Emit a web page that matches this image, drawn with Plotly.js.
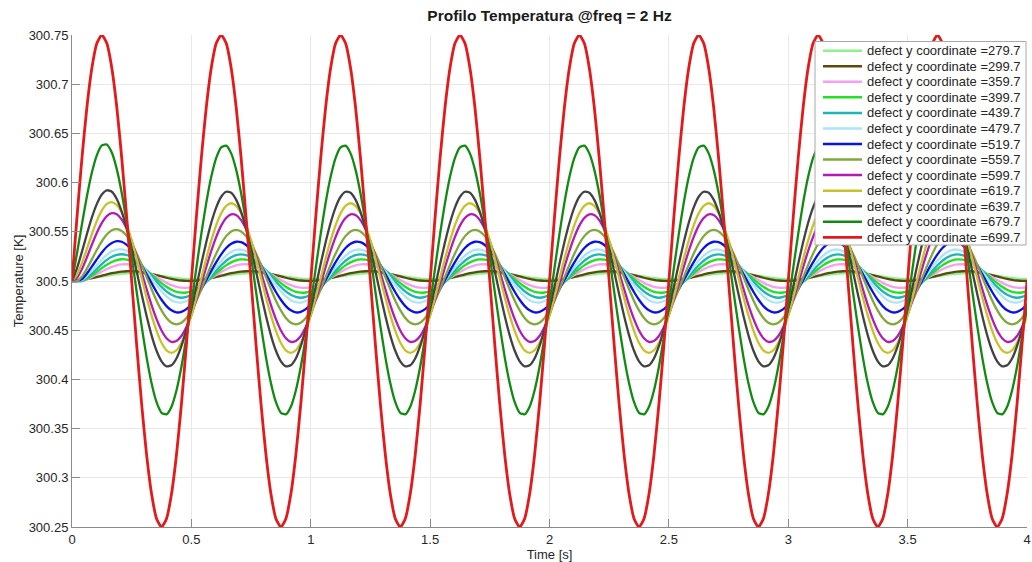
<!DOCTYPE html>
<html><head><meta charset="utf-8">
<script src="https://cdn.plot.ly/plotly-3.0.1.min.js"></script>
<style>html,body{margin:0;padding:0;background:#fff}#chart{width:1032px;height:562px}</style>
</head><body><div id="chart"></div>
<script>
// Time samples [s]
const timeS = [0,0.0208,0.0417,0.0625,0.0833,0.1042,0.125,0.1458,0.1667,0.1875,0.2083,0.2292,0.25,0.2708,0.2917,0.3125,0.3333,0.3542,0.375,0.3958,0.4167,0.4375,0.4583,0.4792,
0.5,0.5208,0.5417,0.5625,0.5833,0.6042,0.625,0.6458,0.6667,0.6875,0.7083,0.7292,0.75,0.7708,0.7917,0.8125,0.8333,0.8542,0.875,0.8958,0.9167,0.9375,0.9583,0.9792,
1,1.0208,1.0417,1.0625,1.0833,1.1042,1.125,1.1458,1.1667,1.1875,1.2083,1.2292,1.25,1.2708,1.2917,1.3125,1.3333,1.3542,1.375,1.3958,1.4167,1.4375,1.4583,1.4792,
1.5,1.5208,1.5417,1.5625,1.5833,1.6042,1.625,1.6458,1.6667,1.6875,1.7083,1.7292,1.75,1.7708,1.7917,1.8125,1.8333,1.8542,1.875,1.8958,1.9167,1.9375,1.9583,1.9792,
2,2.0208,2.0417,2.0625,2.0833,2.1042,2.125,2.1458,2.1667,2.1875,2.2083,2.2292,2.25,2.2708,2.2917,2.3125,2.3333,2.3542,2.375,2.3958,2.4167,2.4375,2.4583,2.4792,
2.5,2.5208,2.5417,2.5625,2.5833,2.6042,2.625,2.6458,2.6667,2.6875,2.7083,2.7292,2.75,2.7708,2.7917,2.8125,2.8333,2.8542,2.875,2.8958,2.9167,2.9375,2.9583,2.9792,
3,3.0208,3.0417,3.0625,3.0833,3.1042,3.125,3.1458,3.1667,3.1875,3.2083,3.2292,3.25,3.2708,3.2917,3.3125,3.3333,3.3542,3.375,3.3958,3.4167,3.4375,3.4583,3.4792,
3.5,3.5208,3.5417,3.5625,3.5833,3.6042,3.625,3.6458,3.6667,3.6875,3.7083,3.7292,3.75,3.7708,3.7917,3.8125,3.8333,3.8542,3.875,3.8958,3.9167,3.9375,3.9583,3.9792,
4];

const seriesLabels = ['defect y coordinate =279.7','defect y coordinate =299.7','defect y coordinate =359.7',
'defect y coordinate =399.7','defect y coordinate =439.7','defect y coordinate =479.7','defect y coordinate =519.7',
'defect y coordinate =559.7','defect y coordinate =599.7','defect y coordinate =619.7','defect y coordinate =639.7',
'defect y coordinate =679.7','defect y coordinate =699.7'];

const seriesColors = ['#8ef08e','#5a4b0c','#f5a0f0','#22e022','#20b4b4','#aee4f5','#0a14e0',
'#80a83a','#b21bb5','#c8c228','#424242','#118a11','#e31a1c'];

// Temperature [K] per defect position
const temp279 = [300.5,300.5007,300.5014,300.5021,300.5029,300.5038,300.5045,300.5054,300.5063,300.5069,300.5075,300.5078,300.508,300.508,300.5077,300.5073,300.5067,300.506,300.5053,300.5045,300.5037,300.5031,300.5025,300.5022,
300.502,300.502,300.5023,300.5027,300.5033,300.504,300.5047,300.5055,300.5063,300.5069,300.5075,300.5078,300.508,300.508,300.5077,300.5073,300.5067,300.506,300.5053,300.5045,300.5037,300.5031,300.5025,300.5022,
300.502,300.502,300.5023,300.5027,300.5033,300.504,300.5047,300.5055,300.5063,300.5069,300.5075,300.5078,300.508,300.508,300.5077,300.5073,300.5067,300.506,300.5053,300.5045,300.5037,300.5031,300.5025,300.5022,
300.502,300.502,300.5023,300.5027,300.5033,300.504,300.5047,300.5055,300.5063,300.5069,300.5075,300.5078,300.508,300.508,300.5077,300.5073,300.5067,300.506,300.5053,300.5045,300.5037,300.5031,300.5025,300.5022,
300.502,300.502,300.5023,300.5027,300.5033,300.504,300.5047,300.5055,300.5063,300.5069,300.5075,300.5078,300.508,300.508,300.5077,300.5073,300.5067,300.506,300.5053,300.5045,300.5037,300.5031,300.5025,300.5022,
300.502,300.502,300.5023,300.5027,300.5033,300.504,300.5047,300.5055,300.5063,300.5069,300.5075,300.5078,300.508,300.508,300.5077,300.5073,300.5067,300.506,300.5053,300.5045,300.5037,300.5031,300.5025,300.5022,
300.502,300.502,300.5023,300.5027,300.5033,300.504,300.5047,300.5055,300.5063,300.5069,300.5075,300.5078,300.508,300.508,300.5077,300.5073,300.5067,300.506,300.5053,300.5045,300.5037,300.5031,300.5025,300.5022,
300.502,300.502,300.5023,300.5027,300.5033,300.504,300.5047,300.5055,300.5063,300.5069,300.5075,300.5078,300.508,300.508,300.5077,300.5073,300.5067,300.506,300.5053,300.5045,300.5037,300.5031,300.5025,300.5022,
300.502];
const temp299 = [300.5,300.5003,300.5009,300.5018,300.5029,300.5041,300.5054,300.5067,300.5079,300.5088,300.5095,300.5099,300.51,300.5097,300.5091,300.5082,300.5071,300.5059,300.5046,300.5033,300.5021,300.5012,300.5005,300.5001,
300.5,300.5003,300.5009,300.5018,300.5029,300.5041,300.5054,300.5067,300.5079,300.5088,300.5095,300.5099,300.51,300.5097,300.5091,300.5082,300.5071,300.5059,300.5046,300.5033,300.5021,300.5012,300.5005,300.5001,
300.5,300.5003,300.5009,300.5018,300.5029,300.5041,300.5054,300.5067,300.5079,300.5088,300.5095,300.5099,300.51,300.5097,300.5091,300.5082,300.5071,300.5059,300.5046,300.5033,300.5021,300.5012,300.5005,300.5001,
300.5,300.5003,300.5009,300.5018,300.5029,300.5041,300.5054,300.5067,300.5079,300.5088,300.5095,300.5099,300.51,300.5097,300.5091,300.5082,300.5071,300.5059,300.5046,300.5033,300.5021,300.5012,300.5005,300.5001,
300.5,300.5003,300.5009,300.5018,300.5029,300.5041,300.5054,300.5067,300.5079,300.5088,300.5095,300.5099,300.51,300.5097,300.5091,300.5082,300.5071,300.5059,300.5046,300.5033,300.5021,300.5012,300.5005,300.5001,
300.5,300.5003,300.5009,300.5018,300.5029,300.5041,300.5054,300.5067,300.5079,300.5088,300.5095,300.5099,300.51,300.5097,300.5091,300.5082,300.5071,300.5059,300.5046,300.5033,300.5021,300.5012,300.5005,300.5001,
300.5,300.5003,300.5009,300.5018,300.5029,300.5041,300.5054,300.5067,300.5079,300.5088,300.5095,300.5099,300.51,300.5097,300.5091,300.5082,300.5071,300.5059,300.5046,300.5033,300.5021,300.5012,300.5005,300.5001,
300.5,300.5003,300.5009,300.5018,300.5029,300.5041,300.5054,300.5067,300.5079,300.5088,300.5095,300.5099,300.51,300.5097,300.5091,300.5082,300.5071,300.5059,300.5046,300.5033,300.5021,300.5012,300.5005,300.5001,
300.5];
const temp359 = [300.5,300.5,300.5,300.5017,300.5041,300.5069,300.5096,300.5122,300.5144,300.516,300.5168,300.517,300.5163,300.5148,300.5127,300.5101,300.5071,300.504,300.5009,300.4981,300.4958,300.4941,300.4932,300.493,
300.4937,300.4952,300.4973,300.4999,300.5029,300.5061,300.5091,300.5119,300.5142,300.5159,300.5168,300.517,300.5163,300.5148,300.5127,300.5101,300.5071,300.504,300.5009,300.4981,300.4958,300.4941,300.4932,300.493,
300.4937,300.4952,300.4973,300.4999,300.5029,300.5061,300.5091,300.5119,300.5142,300.5159,300.5168,300.517,300.5163,300.5148,300.5127,300.5101,300.5071,300.504,300.5009,300.4981,300.4958,300.4941,300.4932,300.493,
300.4937,300.4952,300.4973,300.4999,300.5029,300.5061,300.5091,300.5119,300.5142,300.5159,300.5168,300.517,300.5163,300.5148,300.5127,300.5101,300.5071,300.504,300.5009,300.4981,300.4958,300.4941,300.4932,300.493,
300.4937,300.4952,300.4973,300.4999,300.5029,300.5061,300.5091,300.5119,300.5142,300.5159,300.5168,300.517,300.5163,300.5148,300.5127,300.5101,300.5071,300.504,300.5009,300.4981,300.4958,300.4941,300.4932,300.493,
300.4937,300.4952,300.4973,300.4999,300.5029,300.5061,300.5091,300.5119,300.5142,300.5159,300.5168,300.517,300.5163,300.5148,300.5127,300.5101,300.5071,300.504,300.5009,300.4981,300.4958,300.4941,300.4932,300.493,
300.4937,300.4952,300.4973,300.4999,300.5029,300.5061,300.5091,300.5119,300.5142,300.5159,300.5168,300.517,300.5163,300.5148,300.5127,300.5101,300.5071,300.504,300.5009,300.4981,300.4958,300.4941,300.4932,300.493,
300.4937,300.4952,300.4973,300.4999,300.5029,300.5061,300.5091,300.5119,300.5142,300.5159,300.5168,300.517,300.5163,300.5148,300.5127,300.5101,300.5071,300.504,300.5009,300.4981,300.4958,300.4941,300.4932,300.493,
300.4937];
const temp399 = [300.5,300.5,300.5,300.5022,300.5055,300.5093,300.5131,300.5165,300.5193,300.5212,300.5221,300.5218,300.5204,300.518,300.5148,300.5108,300.5065,300.502,300.4978,300.4941,300.4911,300.489,300.4881,300.4883,
300.4896,300.492,300.4953,300.4992,300.5035,300.508,300.5122,300.5159,300.5189,300.521,300.5219,300.5217,300.5204,300.518,300.5148,300.5108,300.5065,300.502,300.4978,300.4941,300.4911,300.489,300.4881,300.4883,
300.4896,300.492,300.4953,300.4992,300.5035,300.508,300.5122,300.5159,300.5189,300.521,300.5219,300.5217,300.5204,300.518,300.5148,300.5108,300.5065,300.502,300.4978,300.4941,300.4911,300.489,300.4881,300.4883,
300.4896,300.492,300.4953,300.4992,300.5035,300.508,300.5122,300.5159,300.5189,300.521,300.5219,300.5217,300.5204,300.518,300.5148,300.5108,300.5065,300.502,300.4978,300.4941,300.4911,300.489,300.4881,300.4883,
300.4896,300.492,300.4953,300.4992,300.5035,300.508,300.5122,300.5159,300.5189,300.521,300.5219,300.5217,300.5204,300.518,300.5148,300.5108,300.5065,300.502,300.4978,300.4941,300.4911,300.489,300.4881,300.4883,
300.4896,300.492,300.4953,300.4992,300.5035,300.508,300.5122,300.5159,300.5189,300.521,300.5219,300.5217,300.5204,300.518,300.5148,300.5108,300.5065,300.502,300.4978,300.4941,300.4911,300.489,300.4881,300.4883,
300.4896,300.492,300.4953,300.4992,300.5035,300.508,300.5122,300.5159,300.5189,300.521,300.5219,300.5217,300.5204,300.518,300.5148,300.5108,300.5065,300.502,300.4978,300.4941,300.4911,300.489,300.4881,300.4883,
300.4896,300.492,300.4953,300.4992,300.5035,300.508,300.5122,300.5159,300.5189,300.521,300.5219,300.5217,300.5204,300.518,300.5148,300.5108,300.5065,300.502,300.4978,300.4941,300.4911,300.489,300.4881,300.4883,
300.4896];
const temp439 = [300.5,300.5,300.5001,300.5033,300.5076,300.5124,300.5171,300.5214,300.5246,300.5266,300.5272,300.5264,300.5241,300.5206,300.516,300.5107,300.505,300.4993,300.494,300.4894,300.486,300.4838,300.483,300.4838,
300.486,300.4894,300.494,300.4993,300.505,300.5107,300.516,300.5206,300.5241,300.5263,300.527,300.5263,300.5241,300.5206,300.516,300.5107,300.505,300.4993,300.494,300.4894,300.486,300.4838,300.483,300.4838,
300.486,300.4894,300.494,300.4993,300.505,300.5107,300.516,300.5206,300.5241,300.5263,300.527,300.5263,300.5241,300.5206,300.516,300.5107,300.505,300.4993,300.494,300.4894,300.486,300.4838,300.483,300.4838,
300.486,300.4894,300.494,300.4993,300.505,300.5107,300.516,300.5206,300.5241,300.5263,300.527,300.5263,300.5241,300.5206,300.516,300.5107,300.505,300.4993,300.494,300.4894,300.486,300.4838,300.483,300.4838,
300.486,300.4894,300.494,300.4993,300.505,300.5107,300.516,300.5206,300.5241,300.5263,300.527,300.5263,300.5241,300.5206,300.516,300.5107,300.505,300.4993,300.494,300.4894,300.486,300.4838,300.483,300.4838,
300.486,300.4894,300.494,300.4993,300.505,300.5107,300.516,300.5206,300.5241,300.5263,300.527,300.5263,300.5241,300.5206,300.516,300.5107,300.505,300.4993,300.494,300.4894,300.486,300.4838,300.483,300.4838,
300.486,300.4894,300.494,300.4993,300.505,300.5107,300.516,300.5206,300.5241,300.5263,300.527,300.5263,300.5241,300.5206,300.516,300.5107,300.505,300.4993,300.494,300.4894,300.486,300.4838,300.483,300.4838,
300.486,300.4894,300.494,300.4993,300.505,300.5107,300.516,300.5206,300.5241,300.5263,300.527,300.5263,300.5241,300.5206,300.516,300.5107,300.505,300.4993,300.494,300.4894,300.486,300.4838,300.483,300.4838,
300.486];
const temp479 = [300.5,300.5,300.501,300.5052,300.5106,300.5163,300.5219,300.5266,300.5301,300.532,300.5322,300.5306,300.5272,300.5224,300.5164,300.5097,300.5027,300.4958,300.4895,300.4843,300.4805,300.4784,300.4781,300.4796,
300.4829,300.4876,300.4936,300.5003,300.5074,300.5142,300.5205,300.5257,300.5295,300.5316,300.5319,300.5304,300.5271,300.5224,300.5164,300.5097,300.5027,300.4958,300.4895,300.4843,300.4805,300.4784,300.4781,300.4796,
300.4829,300.4876,300.4936,300.5003,300.5074,300.5142,300.5205,300.5257,300.5295,300.5316,300.5319,300.5304,300.5271,300.5224,300.5164,300.5097,300.5027,300.4958,300.4895,300.4843,300.4805,300.4784,300.4781,300.4796,
300.4829,300.4876,300.4936,300.5003,300.5074,300.5142,300.5205,300.5257,300.5295,300.5316,300.5319,300.5304,300.5271,300.5224,300.5164,300.5097,300.5027,300.4958,300.4895,300.4843,300.4805,300.4784,300.4781,300.4796,
300.4829,300.4876,300.4936,300.5003,300.5074,300.5142,300.5205,300.5257,300.5295,300.5316,300.5319,300.5304,300.5271,300.5224,300.5164,300.5097,300.5027,300.4958,300.4895,300.4843,300.4805,300.4784,300.4781,300.4796,
300.4829,300.4876,300.4936,300.5003,300.5074,300.5142,300.5205,300.5257,300.5295,300.5316,300.5319,300.5304,300.5271,300.5224,300.5164,300.5097,300.5027,300.4958,300.4895,300.4843,300.4805,300.4784,300.4781,300.4796,
300.4829,300.4876,300.4936,300.5003,300.5074,300.5142,300.5205,300.5257,300.5295,300.5316,300.5319,300.5304,300.5271,300.5224,300.5164,300.5097,300.5027,300.4958,300.4895,300.4843,300.4805,300.4784,300.4781,300.4796,
300.4829,300.4876,300.4936,300.5003,300.5074,300.5142,300.5205,300.5257,300.5295,300.5316,300.5319,300.5304,300.5271,300.5224,300.5164,300.5097,300.5027,300.4958,300.4895,300.4843,300.4805,300.4784,300.4781,300.4796,
300.4829];
const temp519 = [300.5,300.5,300.502,300.5077,300.5148,300.5221,300.529,300.5348,300.5386,300.5405,300.5399,300.5368,300.5318,300.5247,300.5163,300.5071,300.4978,300.4888,300.4809,300.4745,300.4702,300.4681,300.4686,300.4714,
300.4764,300.4834,300.4917,300.5009,300.5103,300.5192,300.5271,300.5335,300.5378,300.5399,300.5395,300.5366,300.5316,300.5247,300.5163,300.5071,300.4978,300.4888,300.4809,300.4745,300.4702,300.4681,300.4686,300.4714,
300.4764,300.4834,300.4917,300.5009,300.5103,300.5192,300.5271,300.5335,300.5378,300.5399,300.5395,300.5366,300.5316,300.5247,300.5163,300.5071,300.4978,300.4888,300.4809,300.4745,300.4702,300.4681,300.4686,300.4714,
300.4764,300.4834,300.4917,300.5009,300.5103,300.5192,300.5271,300.5335,300.5378,300.5399,300.5395,300.5366,300.5316,300.5247,300.5163,300.5071,300.4978,300.4888,300.4809,300.4745,300.4702,300.4681,300.4686,300.4714,
300.4764,300.4834,300.4917,300.5009,300.5103,300.5192,300.5271,300.5335,300.5378,300.5399,300.5395,300.5366,300.5316,300.5247,300.5163,300.5071,300.4978,300.4888,300.4809,300.4745,300.4702,300.4681,300.4686,300.4714,
300.4764,300.4834,300.4917,300.5009,300.5103,300.5192,300.5271,300.5335,300.5378,300.5399,300.5395,300.5366,300.5316,300.5247,300.5163,300.5071,300.4978,300.4888,300.4809,300.4745,300.4702,300.4681,300.4686,300.4714,
300.4764,300.4834,300.4917,300.5009,300.5103,300.5192,300.5271,300.5335,300.5378,300.5399,300.5395,300.5366,300.5316,300.5247,300.5163,300.5071,300.4978,300.4888,300.4809,300.4745,300.4702,300.4681,300.4686,300.4714,
300.4764,300.4834,300.4917,300.5009,300.5103,300.5192,300.5271,300.5335,300.5378,300.5399,300.5395,300.5366,300.5316,300.5247,300.5163,300.5071,300.4978,300.4888,300.4809,300.4745,300.4702,300.4681,300.4686,300.4714,
300.4764];
const temp559 = [300.5,300.5,300.5046,300.5126,300.522,300.5317,300.5404,300.5472,300.5515,300.5527,300.5509,300.5459,300.5381,300.528,300.5164,300.504,300.4916,300.48,300.4701,300.4624,300.4576,300.456,300.4576,300.4624,
300.4701,300.48,300.4916,300.504,300.5164,300.528,300.5379,300.5456,300.5504,300.552,300.5504,300.5456,300.5379,300.528,300.5164,300.504,300.4916,300.48,300.4701,300.4624,300.4576,300.456,300.4576,300.4624,
300.4701,300.48,300.4916,300.504,300.5164,300.528,300.5379,300.5456,300.5504,300.552,300.5504,300.5456,300.5379,300.528,300.5164,300.504,300.4916,300.48,300.4701,300.4624,300.4576,300.456,300.4576,300.4624,
300.4701,300.48,300.4916,300.504,300.5164,300.528,300.5379,300.5456,300.5504,300.552,300.5504,300.5456,300.5379,300.528,300.5164,300.504,300.4916,300.48,300.4701,300.4624,300.4576,300.456,300.4576,300.4624,
300.4701,300.48,300.4916,300.504,300.5164,300.528,300.5379,300.5456,300.5504,300.552,300.5504,300.5456,300.5379,300.528,300.5164,300.504,300.4916,300.48,300.4701,300.4624,300.4576,300.456,300.4576,300.4624,
300.4701,300.48,300.4916,300.504,300.5164,300.528,300.5379,300.5456,300.5504,300.552,300.5504,300.5456,300.5379,300.528,300.5164,300.504,300.4916,300.48,300.4701,300.4624,300.4576,300.456,300.4576,300.4624,
300.4701,300.48,300.4916,300.504,300.5164,300.528,300.5379,300.5456,300.5504,300.552,300.5504,300.5456,300.5379,300.528,300.5164,300.504,300.4916,300.48,300.4701,300.4624,300.4576,300.456,300.4576,300.4624,
300.4701,300.48,300.4916,300.504,300.5164,300.528,300.5379,300.5456,300.5504,300.552,300.5504,300.5456,300.5379,300.528,300.5164,300.504,300.4916,300.48,300.4701,300.4624,300.4576,300.456,300.4576,300.4624,
300.4701];
const temp599 = [300.5,300.5034,300.5122,300.5241,300.537,300.5491,300.5591,300.566,300.569,300.5678,300.5624,300.5531,300.5405,300.5252,300.5087,300.4917,300.4755,300.4612,300.4497,300.4419,300.4382,300.439,300.4441,300.4532,
300.4657,300.4808,300.4973,300.5143,300.5305,300.5448,300.5563,300.5641,300.5678,300.567,300.5619,300.5528,300.5403,300.5252,300.5087,300.4917,300.4755,300.4612,300.4497,300.4419,300.4382,300.439,300.4441,300.4532,
300.4657,300.4808,300.4973,300.5143,300.5305,300.5448,300.5563,300.5641,300.5678,300.567,300.5619,300.5528,300.5403,300.5252,300.5087,300.4917,300.4755,300.4612,300.4497,300.4419,300.4382,300.439,300.4441,300.4532,
300.4657,300.4808,300.4973,300.5143,300.5305,300.5448,300.5563,300.5641,300.5678,300.567,300.5619,300.5528,300.5403,300.5252,300.5087,300.4917,300.4755,300.4612,300.4497,300.4419,300.4382,300.439,300.4441,300.4532,
300.4657,300.4808,300.4973,300.5143,300.5305,300.5448,300.5563,300.5641,300.5678,300.567,300.5619,300.5528,300.5403,300.5252,300.5087,300.4917,300.4755,300.4612,300.4497,300.4419,300.4382,300.439,300.4441,300.4532,
300.4657,300.4808,300.4973,300.5143,300.5305,300.5448,300.5563,300.5641,300.5678,300.567,300.5619,300.5528,300.5403,300.5252,300.5087,300.4917,300.4755,300.4612,300.4497,300.4419,300.4382,300.439,300.4441,300.4532,
300.4657,300.4808,300.4973,300.5143,300.5305,300.5448,300.5563,300.5641,300.5678,300.567,300.5619,300.5528,300.5403,300.5252,300.5087,300.4917,300.4755,300.4612,300.4497,300.4419,300.4382,300.439,300.4441,300.4532,
300.4657,300.4808,300.4973,300.5143,300.5305,300.5448,300.5563,300.5641,300.5678,300.567,300.5619,300.5528,300.5403,300.5252,300.5087,300.4917,300.4755,300.4612,300.4497,300.4419,300.4382,300.439,300.4441,300.4532,
300.4657];
const temp619 = [300.5,300.5064,300.5182,300.5327,300.5476,300.5611,300.5717,300.5783,300.5802,300.5772,300.5693,300.5571,300.5412,300.5227,300.503,300.4833,300.465,300.4493,300.4372,300.4296,300.427,300.4296,300.4372,300.4493,
300.465,300.4833,300.503,300.5227,300.541,300.5567,300.5688,300.5764,300.579,300.5764,300.5688,300.5567,300.541,300.5227,300.503,300.4833,300.465,300.4493,300.4372,300.4296,300.427,300.4296,300.4372,300.4493,
300.465,300.4833,300.503,300.5227,300.541,300.5567,300.5688,300.5764,300.579,300.5764,300.5688,300.5567,300.541,300.5227,300.503,300.4833,300.465,300.4493,300.4372,300.4296,300.427,300.4296,300.4372,300.4493,
300.465,300.4833,300.503,300.5227,300.541,300.5567,300.5688,300.5764,300.579,300.5764,300.5688,300.5567,300.541,300.5227,300.503,300.4833,300.465,300.4493,300.4372,300.4296,300.427,300.4296,300.4372,300.4493,
300.465,300.4833,300.503,300.5227,300.541,300.5567,300.5688,300.5764,300.579,300.5764,300.5688,300.5567,300.541,300.5227,300.503,300.4833,300.465,300.4493,300.4372,300.4296,300.427,300.4296,300.4372,300.4493,
300.465,300.4833,300.503,300.5227,300.541,300.5567,300.5688,300.5764,300.579,300.5764,300.5688,300.5567,300.541,300.5227,300.503,300.4833,300.465,300.4493,300.4372,300.4296,300.427,300.4296,300.4372,300.4493,
300.465,300.4833,300.503,300.5227,300.541,300.5567,300.5688,300.5764,300.579,300.5764,300.5688,300.5567,300.541,300.5227,300.503,300.4833,300.465,300.4493,300.4372,300.4296,300.427,300.4296,300.4372,300.4493,
300.465,300.4833,300.503,300.5227,300.541,300.5567,300.5688,300.5764,300.579,300.5764,300.5688,300.5567,300.541,300.5227,300.503,300.4833,300.465,300.4493,300.4372,300.4296,300.427,300.4296,300.4372,300.4493,
300.465];
const temp639 = [300.5,300.5129,300.5298,300.5477,300.5646,300.5784,300.5879,300.5922,300.5907,300.5834,300.5706,300.5534,300.5326,300.5098,300.4865,300.4644,300.4448,300.4291,300.4184,300.4133,300.4143,300.4213,300.4338,300.4509,
300.4716,300.4942,300.5175,300.5396,300.5592,300.5749,300.5856,300.5907,300.5897,300.5827,300.5702,300.5531,300.5324,300.5098,300.4865,300.4644,300.4448,300.4291,300.4184,300.4133,300.4143,300.4213,300.4338,300.4509,
300.4716,300.4942,300.5175,300.5396,300.5592,300.5749,300.5856,300.5907,300.5897,300.5827,300.5702,300.5531,300.5324,300.5098,300.4865,300.4644,300.4448,300.4291,300.4184,300.4133,300.4143,300.4213,300.4338,300.4509,
300.4716,300.4942,300.5175,300.5396,300.5592,300.5749,300.5856,300.5907,300.5897,300.5827,300.5702,300.5531,300.5324,300.5098,300.4865,300.4644,300.4448,300.4291,300.4184,300.4133,300.4143,300.4213,300.4338,300.4509,
300.4716,300.4942,300.5175,300.5396,300.5592,300.5749,300.5856,300.5907,300.5897,300.5827,300.5702,300.5531,300.5324,300.5098,300.4865,300.4644,300.4448,300.4291,300.4184,300.4133,300.4143,300.4213,300.4338,300.4509,
300.4716,300.4942,300.5175,300.5396,300.5592,300.5749,300.5856,300.5907,300.5897,300.5827,300.5702,300.5531,300.5324,300.5098,300.4865,300.4644,300.4448,300.4291,300.4184,300.4133,300.4143,300.4213,300.4338,300.4509,
300.4716,300.4942,300.5175,300.5396,300.5592,300.5749,300.5856,300.5907,300.5897,300.5827,300.5702,300.5531,300.5324,300.5098,300.4865,300.4644,300.4448,300.4291,300.4184,300.4133,300.4143,300.4213,300.4338,300.4509,
300.4716,300.4942,300.5175,300.5396,300.5592,300.5749,300.5856,300.5907,300.5897,300.5827,300.5702,300.5531,300.5324,300.5098,300.4865,300.4644,300.4448,300.4291,300.4184,300.4133,300.4143,300.4213,300.4338,300.4509,
300.4716];
const temp679 = [300.5,300.528,300.5578,300.5861,300.6102,300.628,300.6378,300.6387,300.6305,300.6137,300.5895,300.5591,300.5248,300.4891,300.4542,300.4224,300.3961,300.3768,300.3661,300.3645,300.3723,300.3888,300.4129,300.4431,
300.4772,300.513,300.5479,300.5796,300.6059,300.6252,300.6359,300.6375,300.6297,300.6132,300.5891,300.5589,300.5248,300.4891,300.4542,300.4224,300.3961,300.3768,300.3661,300.3645,300.3723,300.3888,300.4129,300.4431,
300.4772,300.513,300.5479,300.5796,300.6059,300.6252,300.6359,300.6375,300.6297,300.6132,300.5891,300.5589,300.5248,300.4891,300.4542,300.4224,300.3961,300.3768,300.3661,300.3645,300.3723,300.3888,300.4129,300.4431,
300.4772,300.513,300.5479,300.5796,300.6059,300.6252,300.6359,300.6375,300.6297,300.6132,300.5891,300.5589,300.5248,300.4891,300.4542,300.4224,300.3961,300.3768,300.3661,300.3645,300.3723,300.3888,300.4129,300.4431,
300.4772,300.513,300.5479,300.5796,300.6059,300.6252,300.6359,300.6375,300.6297,300.6132,300.5891,300.5589,300.5248,300.4891,300.4542,300.4224,300.3961,300.3768,300.3661,300.3645,300.3723,300.3888,300.4129,300.4431,
300.4772,300.513,300.5479,300.5796,300.6059,300.6252,300.6359,300.6375,300.6297,300.6132,300.5891,300.5589,300.5248,300.4891,300.4542,300.4224,300.3961,300.3768,300.3661,300.3645,300.3723,300.3888,300.4129,300.4431,
300.4772,300.513,300.5479,300.5796,300.6059,300.6252,300.6359,300.6375,300.6297,300.6132,300.5891,300.5589,300.5248,300.4891,300.4542,300.4224,300.3961,300.3768,300.3661,300.3645,300.3723,300.3888,300.4129,300.4431,
300.4772,300.513,300.5479,300.5796,300.6059,300.6252,300.6359,300.6375,300.6297,300.6132,300.5891,300.5589,300.5248,300.4891,300.4542,300.4224,300.3961,300.3768,300.3661,300.3645,300.3723,300.3888,300.4129,300.4431,
300.4772];
const temp699 = [300.5,300.5647,300.625,300.6768,300.7165,300.7415,300.75,300.7415,300.7165,300.6768,300.625,300.5647,300.5,300.4353,300.375,300.3232,300.2835,300.2585,300.25,300.2585,300.2835,300.3232,300.375,300.4353,
300.5,300.5647,300.625,300.6768,300.7165,300.7415,300.75,300.7415,300.7165,300.6768,300.625,300.5647,300.5,300.4353,300.375,300.3232,300.2835,300.2585,300.25,300.2585,300.2835,300.3232,300.375,300.4353,
300.5,300.5647,300.625,300.6768,300.7165,300.7415,300.75,300.7415,300.7165,300.6768,300.625,300.5647,300.5,300.4353,300.375,300.3232,300.2835,300.2585,300.25,300.2585,300.2835,300.3232,300.375,300.4353,
300.5,300.5647,300.625,300.6768,300.7165,300.7415,300.75,300.7415,300.7165,300.6768,300.625,300.5647,300.5,300.4353,300.375,300.3232,300.2835,300.2585,300.25,300.2585,300.2835,300.3232,300.375,300.4353,
300.5,300.5647,300.625,300.6768,300.7165,300.7415,300.75,300.7415,300.7165,300.6768,300.625,300.5647,300.5,300.4353,300.375,300.3232,300.2835,300.2585,300.25,300.2585,300.2835,300.3232,300.375,300.4353,
300.5,300.5647,300.625,300.6768,300.7165,300.7415,300.75,300.7415,300.7165,300.6768,300.625,300.5647,300.5,300.4353,300.375,300.3232,300.2835,300.2585,300.25,300.2585,300.2835,300.3232,300.375,300.4353,
300.5,300.5647,300.625,300.6768,300.7165,300.7415,300.75,300.7415,300.7165,300.6768,300.625,300.5647,300.5,300.4353,300.375,300.3232,300.2835,300.2585,300.25,300.2585,300.2835,300.3232,300.375,300.4353,
300.5,300.5647,300.625,300.6768,300.7165,300.7415,300.75,300.7415,300.7165,300.6768,300.625,300.5647,300.5,300.4353,300.375,300.3232,300.2835,300.2585,300.25,300.2585,300.2835,300.3232,300.375,300.4353,
300.5];

const xTickVals = [0,0.5,1,1.5,2,2.5,3,3.5,4];
const xTickText = ['0','0.5','1','1.5','2','2.5','3','3.5','4'];
const yTickVals = [300.25,300.3,300.35,300.4,300.45,300.5,300.55,300.6,300.65,300.7,300.75];
const yTickText = ['300.25','300.3','300.35','300.4','300.45','300.5','300.55','300.6','300.65','300.7','300.75'];

const seriesY = [temp279,temp299,temp359,temp399,temp439,temp479,temp519,temp559,temp599,temp619,temp639,temp679,temp699];

const FONT = 'Liberation Sans, Arial, sans-serif';
const traces = seriesY.map((y, i) => ({
  x: timeS, y: y, type: 'scatter', mode: 'lines', name: seriesLabels[i],
  line: {color: seriesColors[i], width: i === seriesY.length - 1 ? 2.8 : 2.3, shape: 'spline', smoothing: 0.6},
  showlegend: false, hoverinfo: 'skip'
}));

// Compact MATLAB-style legend box in paper coordinates
const W = 1032, H = 562, ML = 72, MR = 5, MT = 35, MB = 35;
const PW = W - ML - MR, PH = H - MT - MB;
const px = v => (v - ML) / PW;
const py = v => (MT + PH - v) / PH;
const legTop = 41.5, legBottom = 245, legLeft = 815, legRight = 1026;
const rowTop = 50.7, rowStep = 15.55;
const shapes = [{type: 'rect', xref: 'paper', yref: 'paper', layer: 'above',
  x0: px(legLeft), x1: px(legRight), y0: py(legBottom), y1: py(legTop),
  fillcolor: '#ffffff', line: {color: '#a8a8a8', width: 1}}];
const annotations = [];
seriesLabels.forEach((lab, i) => {
  const ry = py(rowTop + i * rowStep);
  shapes.push({type: 'line', xref: 'paper', yref: 'paper', layer: 'above',
    x0: px(legLeft + 8), x1: px(legLeft + 47), y0: ry, y1: ry,
    line: {color: seriesColors[i], width: i === seriesLabels.length - 1 ? 2.8 : 2.5}});
  annotations.push({xref: 'paper', yref: 'paper', x: px(legLeft + 50), y: ry, xanchor: 'left', yanchor: 'middle',
    text: lab, showarrow: false, font: {family: FONT, size: 13, color: '#262626'}});
});

const axisCommon = {
  showgrid: true, gridcolor: '#e8e8e8', gridwidth: 1, zeroline: false,
  showline: true, linecolor: '#8a8a8a', linewidth: 1, mirror: false,
  ticks: 'inside', ticklen: 8, tickcolor: '#8a8a8a', tickwidth: 1,
  ticklabeloverflow: 'allow',
  tickfont: {family: FONT, size: 13, color: '#262626'}
};

const layout = {
  width: W, height: H, margin: {l: ML, r: MR, t: MT, b: MB},
  paper_bgcolor: '#ffffff', plot_bgcolor: '#ffffff', showlegend: false,
  font: {family: FONT, color: '#262626'},
  title: {text: 'Profilo Temperatura @freq = 2 Hz', x: 0.5, xref: 'paper', y: 1 - 16 / H, yanchor: 'middle',
    font: {family: FONT, size: 15.5, weight: 'bold', color: '#1a1a1a'}},
  xaxis: Object.assign({}, axisCommon, {range: [0, 4], tickmode: 'array', tickvals: xTickVals, ticktext: xTickText,
    title: {text: 'Time [s]', font: {family: FONT, size: 13, color: '#262626'}, standoff: 4}}),
  yaxis: Object.assign({}, axisCommon, {range: [300.25, 300.75], tickmode: 'array', tickvals: yTickVals, ticktext: yTickText,
    title: {text: 'Temperature [K]', font: {family: FONT, size: 13, color: '#262626'}, standoff: 2}}),
  shapes: shapes, annotations: annotations
};

Plotly.newPlot('chart', traces, layout, {staticPlot: true, displayModeBar: false});
</script>
</body></html>
